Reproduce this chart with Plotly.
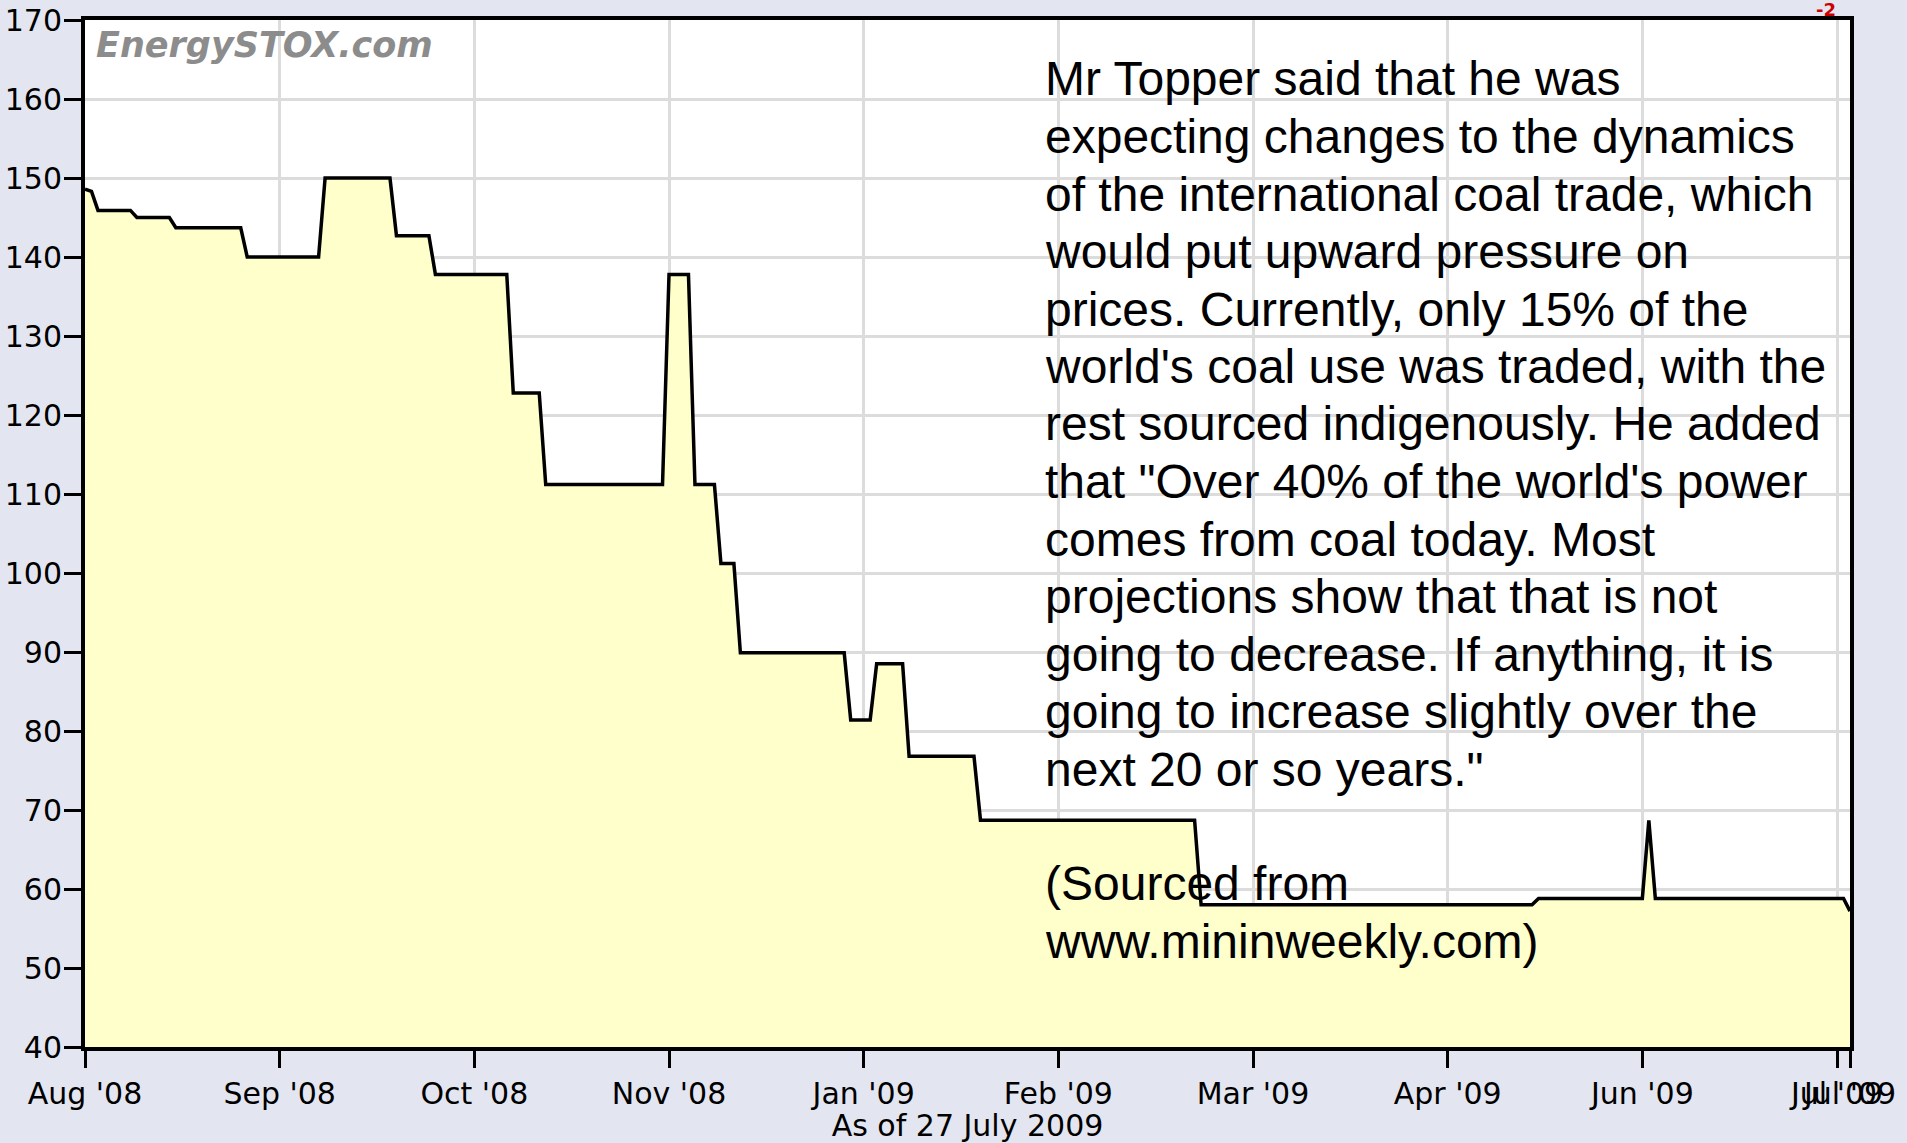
import plotly.graph_objects as go

# Coal price series, stored as run lengths: each level and how many
# consecutive data points it holds for (index axis, not calendar time)
PRICE_LEVELS = [148.6, 148.3, 145.9, 145.0, 143.7, 140.0, 150.0, 142.7,
                137.8, 122.8, 111.2, 137.8, 111.2, 101.2, 89.9, 81.4,
                88.5, 76.8, 68.7, 58.0, 58.8, 68.7, 58.8, 57.2]
POINTS_AT_LEVEL = [1, 1, 6, 6, 11, 12, 11, 6,
                   12, 5, 19, 4, 4, 3, 17, 4,
                   5, 11, 34, 52, 17, 1, 30, 1]

TICK_POINTS = [0, 30, 60, 90, 120, 150, 180, 210, 240, 270, 272]
TICK_LABELS = ["Aug '08", "Sep '08", "Oct '08", "Nov '08", "Jan '09", "Feb '09",
               "Mar '09", "Apr '09", "Jun '09", "Jul '09", "Jul '09"]

NOTE_LINES = [
    "Mr Topper said that he was",
    "expecting changes to the dynamics",
    "of the international coal trade, which",
    "would put upward pressure on",
    "prices. Currently, only 15% of the",
    "world's coal use was traded, with the",
    "rest sourced indigenously. He added",
    "that \"Over 40% of the world's power",
    "comes from coal today. Most",
    "projections show that that is not",
    "going to decrease. If anything, it is",
    "going to increase slightly over the",
    "next 20 or so years.\"",
    "",
    "(Sourced from",
    "www.mininweekly.com)",
]

prices = []
for level, n in zip(PRICE_LEVELS, POINTS_AT_LEVEL):
    prices.extend([level] * n)
points = list(range(len(prices)))

# figure fills the page (body margin removed below)
W, H = 1907, 1143
L, R, T, B = 85, 57, 20, 96

PLOT_X0, PLOT_X1, PLOT_Y0, PLOT_Y1 = L, W - R, T, H - B


def px(page_x):
    return (page_x - PLOT_X0) / (PLOT_X1 - PLOT_X0)


def py(page_y):
    return (PLOT_Y1 - page_y) / (PLOT_Y1 - PLOT_Y0)


fig = go.Figure()
fig.add_trace(go.Scatter(
    x=points, y=prices, mode="lines",
    line={"color": "black", "width": 3.5},
    fill="tozeroy", fillcolor="#FFFFCC",
    hoverinfo="skip",
))

axis_style = dict(
    showline=True, linecolor="black", linewidth=4, mirror=True,
    ticks="outside", ticklen=17, tickwidth=3, tickcolor="black",
    showgrid=True, gridcolor="#DCDCDC", gridwidth=3, zeroline=False,
    automargin=False,
    tickfont={"family": "DejaVu Sans", "size": 30, "color": "black"},
)

fig.update_layout(
    width=W, height=H,
    margin={"l": L, "r": R, "t": T, "b": B},
    paper_bgcolor="#E3E6F0", plot_bgcolor="white",
    showlegend=False,
    xaxis=dict(
        range=[0, len(prices) - 1],
        tickmode="array", tickvals=TICK_POINTS, ticktext=TICK_LABELS,
        tickangle=0,
        title={"text": "As of 27 July 2009", "standoff": 0,
               "font": {"family": "DejaVu Sans", "size": 30, "color": "black"}},
        **axis_style,
    ),
    yaxis=dict(range=[40, 170], tick0=40, dtick=10, ticklabelstandoff=-4,
               **axis_style),
)

for i, line in enumerate(NOTE_LINES):
    if not line:
        continue
    fig.add_annotation(
        text=line, xref="paper", yref="paper",
        x=px(1043), y=py(79 + 57.5 * i),
        xanchor="left", yanchor="middle", showarrow=False,
        font={"family": "Liberation Sans", "size": 48, "color": "black"},
    )

# watermark
fig.add_annotation(
    text="EnergySTOX.com", xref="paper", yref="paper",
    x=px(94), y=py(45), xanchor="left", yanchor="middle", showarrow=False,
    font={"family": "DejaVu Sans", "size": 35, "color": "#8C8C8C",
          "weight": "bold", "style": "italic"},
)

# small red marker at the top right
fig.add_annotation(
    text="-2", xref="paper", yref="paper",
    x=px(1826), y=py(10), xanchor="center", yanchor="middle", showarrow=False,
    font={"family": "DejaVu Sans", "size": 18, "color": "#CC0000", "weight": "bold"},
)

fig.write_html(
    "out.html",
    config={"displayModeBar": False},
    post_script="document.body.style.margin = '0'; document.body.style.overflow = 'hidden';",
)
